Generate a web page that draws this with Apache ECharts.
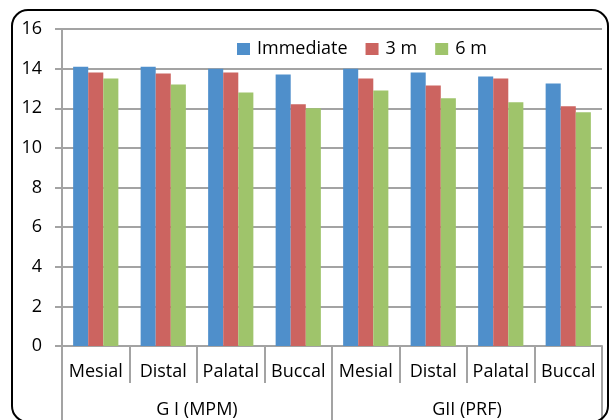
<!DOCTYPE html>
<html>
<head>
<meta charset="utf-8">
<script src="https://cdn.jsdelivr.net/npm/echarts@6/dist/echarts.min.js"></script>
<style>
  html, body { margin: 0; padding: 0; background: #fff; }
  #chart { width: 611px; height: 420px; }
</style>
</head>
<body>
<div id="chart"></div>
<script>
// Sites measured within each group
const sites = ['Mesial', 'Distal', 'Palatal', 'Buccal', 'Mesial', 'Distal', 'Palatal', 'Buccal'];
// Treatment groups spanning four sites each
const groups = ['G I (MPM)', 'GII (PRF)'];
// Measurements per follow-up time
const immediate = [14.1, 14.1, 14.0, 13.7, 14.0, 13.8, 13.6, 13.25];
const threeMonths = [13.8, 13.75, 13.8, 12.2, 13.5, 13.15, 13.5, 12.1];
const sixMonths = [13.5, 13.2, 12.8, 12.0, 12.9, 12.5, 12.3, 11.8];
const seriesNames = ['Immediate', '3 m', '6 m'];
const yTicks = [0, 2, 4, 6, 8, 10, 12, 14, 16];

const font = 'Open Sans';
const gridColor = '#a3a3a3';

const chart = echarts.init(document.getElementById('chart'), null, { renderer: 'canvas' });
chart.setOption({
  animation: false,
  color: ['#4f8fcb', '#cc6460', '#9fc46b'],
  textStyle: { fontFamily: font, color: '#000' },
  legend: {
    data: seriesNames,
    top: 35,
    left: 232,
    itemWidth: 13,
    itemHeight: 12,
    itemGap: 18,
    icon: 'rect',
    textStyle: { fontFamily: font, fontSize: 18, color: '#000', padding: [0, 0, 0, 2] }
  },
  grid: { left: 62, right: 9, top: 29, bottom: 74, containLabel: false },
  xAxis: [
    {
      type: 'category',
      data: sites,
      position: 'bottom',
      axisLine: { lineStyle: { color: gridColor, width: 2 } },
      axisTick: { show: true, interval: 0, length: 37, lineStyle: { color: gridColor, width: 2 } },
      axisLabel: { interval: 0, margin: 17, fontFamily: font, fontSize: 18, color: '#000' }
    },
    {
      type: 'category',
      data: groups,
      position: 'bottom',
      axisLine: { show: false },
      axisTick: { show: true, interval: 0, length: 80, lineStyle: { color: gridColor, width: 2 } },
      axisLabel: { interval: 0, margin: 55, fontFamily: font, fontSize: 18, color: '#000' }
    }
  ],
  yAxis: {
    type: 'value',
    min: yTicks[0],
    max: yTicks[yTicks.length - 1],
    interval: 2,
    axisLine: { show: true, lineStyle: { color: gridColor, width: 2 } },
    axisTick: { show: true, length: 7, lineStyle: { color: gridColor, width: 2 } },
    splitLine: { lineStyle: { color: gridColor, width: 2 } },
    axisLabel: { margin: 20, fontFamily: font, fontSize: 18, color: '#000' }
  },
  series: [
    { name: seriesNames[0], type: 'bar', data: immediate, barGap: '0%', barCategoryGap: '33%' },
    { name: seriesNames[1], type: 'bar', data: threeMonths, barGap: '0%', barCategoryGap: '33%' },
    { name: seriesNames[2], type: 'bar', data: sixMonths, barGap: '0%', barCategoryGap: '33%' }
  ],
  graphic: [
    {
      type: 'rect',
      shape: { x: 12, y: 10, width: 596, height: 412, r: 16 },
      style: { fill: 'none', stroke: '#000', lineWidth: 2 },
      silent: true,
      z: 100
    }
  ]
});
</script>
</body>
</html>
